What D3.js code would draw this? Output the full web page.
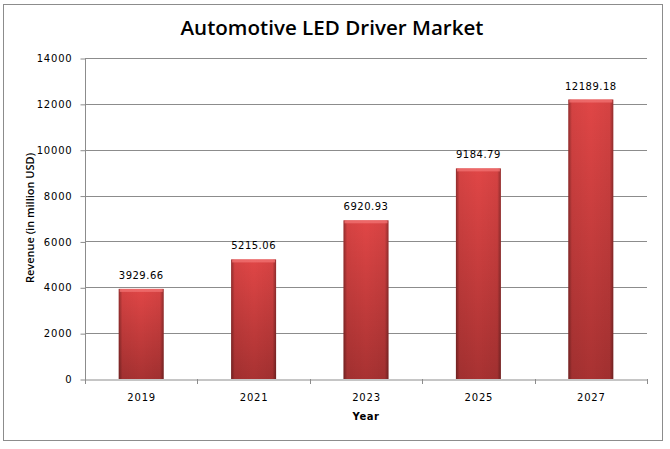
<!DOCTYPE html>
<html><head><meta charset="utf-8">
<script src="https://cdn.jsdelivr.net/npm/d3@7/dist/d3.min.js"></script>
<style>body{margin:0;background:#fff}svg{display:block}</style>
</head><body><svg id="c" width="670" height="449"></svg>
<script>
const categories = ["2019","2021","2023","2025","2027"];
const values = [3929.66, 5215.06, 6920.93, 9184.79, 12189.18];
const valueLabels = ["3929.66","5215.06","6920.93","9184.79","12189.18"];
const yTicks = [0,2000,4000,6000,8000,10000,12000,14000];
const title = "Automotive LED Driver Market";
const yTitle = "Revenue (in million USD)";
const xTitle = "Year";

const svg = d3.select("#c");
const m = {l:85, r:647, t:58, b:379};

svg.append("rect").attr("x",3.5).attr("y",4.5).attr("width",659).attr("height",436)
  .attr("fill","#fff").attr("stroke","#8c8c8c").attr("stroke-width",1);

const defs = svg.append("defs");
const gv = defs.append("linearGradient").attr("id","gv").attr("x1",0).attr("y1",0).attr("x2",0).attr("y2",1);
gv.append("stop").attr("offset","0%").attr("stop-color","#e04646");
gv.append("stop").attr("offset","100%").attr("stop-color","#a83232");
const gh = defs.append("linearGradient").attr("id","gh").attr("x1",0).attr("y1",0).attr("x2",1).attr("y2",0);
gh.append("stop").attr("offset","0%").attr("stop-color","#000").attr("stop-opacity",0.35);
gh.append("stop").attr("offset","8%").attr("stop-color","#000").attr("stop-opacity",0.05);
gh.append("stop").attr("offset","50%").attr("stop-color","#000").attr("stop-opacity",0);
gh.append("stop").attr("offset","92%").attr("stop-color","#000").attr("stop-opacity",0.05);
gh.append("stop").attr("offset","100%").attr("stop-color","#000").attr("stop-opacity",0.35);

const x = d3.scaleBand().domain(categories).range([m.l, m.r]).paddingInner(0.6).paddingOuter(0.3);
const xb = d3.scaleBand().domain(categories).range([m.l, m.r]);
const y = d3.scaleLinear().domain([0,14000]).range([m.b, m.t]);

// gridlines
svg.append("g").selectAll("line").data(yTicks.slice(1)).join("line")
  .attr("x1",m.l).attr("x2",m.r).attr("y1",d=>Math.round(y(d))+0.5).attr("y2",d=>Math.round(y(d))+0.5)
  .attr("stroke","#8c8c8c");

// y axis
const ya = svg.append("g").attr("transform",`translate(${m.l+0.5},0.5)`)
  .call(d3.axisLeft(y).tickValues(yTicks).tickSize(5).tickPadding(8).tickFormat(d3.format("d")));
ya.select(".domain").attr("stroke","#8c8c8c").attr("d",`M-0,${m.t}V${m.b}`);
ya.selectAll(".tick line").attr("stroke","#8c8c8c");
ya.selectAll(".tick text").attr("font-family","DejaVu Sans").attr("font-size",10).attr("letter-spacing",0.8).attr("fill","#000");

// bars
const bars = svg.append("g");
bars.selectAll("rect.b").data(values).join("rect").attr("class","b")
  .attr("x",(d,i)=>x(categories[i])).attr("width",x.bandwidth())
  .attr("y",d=>y(d)).attr("height",d=>m.b-y(d)).attr("fill","url(#gv)");
bars.selectAll("rect.s").data(values).join("rect").attr("class","s")
  .attr("x",(d,i)=>x(categories[i])).attr("width",x.bandwidth())
  .attr("y",d=>y(d)).attr("height",d=>m.b-y(d)).attr("fill","url(#gh)");
bars.selectAll("rect.t").data(values).join("rect").attr("class","t")
  .attr("x",(d,i)=>x(categories[i])+1).attr("width",x.bandwidth()-2)
  .attr("y",d=>y(d)).attr("height",3).attr("fill","#f07070").attr("opacity",0.8);

// x axis
const xa = svg.append("g").attr("transform",`translate(0.5,${m.b+0.5})`)
  .call(d3.axisBottom(xb).tickSize(0).tickPadding(14));
xa.select(".domain").attr("stroke","#8c8c8c");
xa.selectAll(".tick text").attr("font-family","DejaVu Sans").attr("font-size",10).attr("letter-spacing",0.8).attr("fill","#000");
svg.append("g").selectAll("line").data(categories.concat(["end"])).join("line")
  .attr("x1",(d,i)=>Math.round(m.l+i*xb.step())+0.5).attr("x2",(d,i)=>Math.round(m.l+i*xb.step())+0.5)
  .attr("y1",m.b).attr("y2",m.b+5).attr("stroke","#8c8c8c");

// value labels
svg.append("g").selectAll("text").data(values).join("text")
  .attr("x",(d,i)=>x(categories[i])+x.bandwidth()/2).attr("y",d=>y(d)-10)
  .attr("text-anchor","middle").attr("font-family","DejaVu Sans").attr("font-size",10).attr("letter-spacing",0.5)
  .text((d,i)=>valueLabels[i]);

// titles
svg.append("text").attr("x",332).attr("y",35).attr("text-anchor","middle")
  .attr("font-family","Open Sans").attr("font-weight",600).attr("font-size",20).attr("textLength",303).attr("lengthAdjust","spacingAndGlyphs").text(title);
svg.append("text").attr("transform","translate(34,218) rotate(-90)").attr("text-anchor","middle")
  .attr("font-family","Open Sans").attr("font-weight",600).attr("font-size",11).text(yTitle);
svg.append("text").attr("x",366).attr("y",420).attr("text-anchor","middle")
  .attr("font-family","DejaVu Sans").attr("font-weight","bold").attr("font-size",10).attr("letter-spacing",0.5).text(xTitle);
</script></body></html>
